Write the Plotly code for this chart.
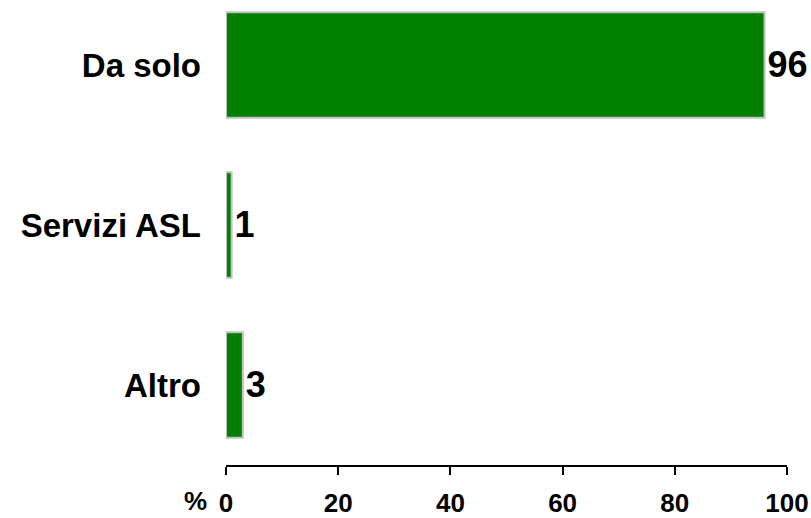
import plotly.graph_objects as go

categories = ["Altro", "Servizi ASL", "Da solo"]
values = [3, 1, 96]
tick_vals = [0, 20, 40, 60, 80, 100]
tick_text = ["0", "20", "40", "60", "80", "100"]

FONT = "Liberation Sans, Arial, sans-serif"

fig = go.Figure(
    go.Bar(
        y=categories,
        x=values,
        orientation="h",
        width=0.66,
        marker=dict(color="#008000", line=dict(color="#c0c0c0", width=2)),
        text=[str(v) for v in values],
        textposition="outside",
        textfont=dict(family=FONT, size=36, color="black", weight="bold"),
        cliponaxis=False,
    )
)

fig.update_layout(
    width=811,
    height=518,
    margin=dict(l=226, r=24, t=0, b=53),
    paper_bgcolor="white",
    plot_bgcolor="white",
    showlegend=False,
    font=dict(family=FONT, color="black"),
    xaxis=dict(
        range=[0, 100],
        tickvals=tick_vals,
        ticktext=tick_text,
        showgrid=False,
        zeroline=False,
        showline=True,
        linecolor="black",
        linewidth=2,
        ticks="outside",
        ticklen=8,
        tickwidth=2,
        tickcolor="black",
        tickfont=dict(family=FONT, size=26, color="black", weight="bold"),
        ticklabelstandoff=6,
        automargin=False,
        fixedrange=True,
    ),
    yaxis=dict(
        type="category",
        categoryorder="array",
        categoryarray=categories,
        range=[-0.5, 2.406],
        showgrid=False,
        zeroline=False,
        showline=False,
        ticks="",
        tickfont=dict(family=FONT, size=33, color="black", weight="bold"),
        ticklabelstandoff=24,
        automargin=False,
        fixedrange=True,
    ),
    annotations=[
        dict(
            text="%",
            xref="paper",
            yref="paper",
            x=-0.03,
            y=-0.078,
            xanchor="right",
            yanchor="middle",
            showarrow=False,
            font=dict(family=FONT, size=26, color="black", weight="bold"),
        )
    ],
)

fig.write_html(
    "out.html",
    config={"displayModeBar": False},
    post_script="document.body.style.margin='0';document.body.style.overflow='hidden';",
)
